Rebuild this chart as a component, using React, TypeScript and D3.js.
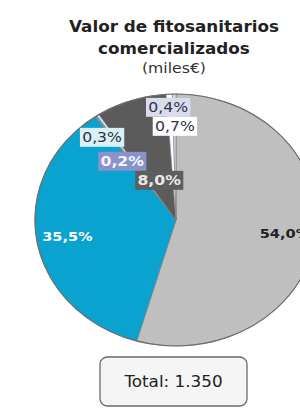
import React, { useEffect, useRef } from 'react';
import * as d3 from 'd3';

// valores del gráfico (porcentaje sobre el total)
const categories = ["Grupo A", "Grupo B", "Grupo C", "Grupo D", "Grupo E", "Grupo F", "Grupo G"];
const values = [54.0, 35.5, 0.2, 0.3, 8.0, 0.7, 0.4];
const sliceColors = ["#bfbfbf", "#0aa3cf", "#7f8cc8", "#c4e6ef", "#5b5b5b", "#ffffff", "#d5d8ea"];
const labelFills = ["none", "none", "#8793c9", "#daf0f4", "#5e5e5e", "#ffffff", "#d9dcec"];
const labelInk = ["#222222", "#ffffff", "#f4f4ff", "#2c3448", "#e8e8e8", "#2c3448", "#2c3448"];
// etiquetas movidas a mano (relativas al centro); null = centroide
const labelSpots: ([number, number] | null)[] = [null, null, [-48, -59], [-66, -83], [-15, -40], [-1, -94], [-7, -113]];
const titleLines = ["Valor de fitosanitarios", "comercializados"];
const subtitle = "(miles€)";
const totalText = "Total: 1.350";

const W = 300, H = 408;
const stretch = 1.12; // la imagen original está algo estirada en horizontal

function App() {
  const ref = useRef<SVGSVGElement>(null);

  useEffect(() => {
    const svg = d3.select(ref.current);
    svg.selectAll("*").remove();
    const font = "'DejaVu Sans', Verdana, sans-serif";

    const root = svg.append("g").attr("transform", `scale(${stretch},1)`);
    const cx = 176 / stretch, cy = 220, r = 126;

    // titulo
    root.selectAll("text.title")
      .data(titleLines)
      .enter()
      .append("text")
      .attr("class", "title")
      .attr("x", 174 / stretch)
      .attr("y", (d, i) => 32 + i * 22)
      .attr("text-anchor", "middle")
      .attr("font-family", font)
      .attr("font-weight", "bold")
      .attr("font-size", 15)
      .attr("fill", "#222")
      .text(d => d);
    root.append("text")
      .attr("x", 174 / stretch)
      .attr("y", 73)
      .attr("text-anchor", "middle")
      .attr("font-family", font)
      .attr("font-size", 14)
      .attr("fill", "#333")
      .text(subtitle);

    const data = categories.map((c, i) => ({ key: c, value: values[i], index: i }));
    const pie = d3.pie<any>().sort(null).value(d => d.value);
    const arc = d3.arc<any>().innerRadius(0).outerRadius(r);
    const labelArc = d3.arc<any>().innerRadius(r * 0.78).outerRadius(r * 0.78);

    const bodyG = root.append("g").attr("transform", `translate(${cx},${cy})`);
    bodyG.selectAll("path.slice")
      .data(pie(data))
      .enter()
      .append("path")
      .attr("class", "slice")
      .attr("d", d => arc(d) as string)
      .attr("fill", d => sliceColors[d.data.index])
      .attr("stroke", "#7a7a7a")
      .attr("stroke-width", 0.6)
      .attr("vector-effect", "non-scaling-stroke");
    bodyG.append("circle")
      .attr("r", r)
      .attr("fill", "none")
      .attr("stroke", "#6e6e6e")
      .attr("stroke-width", 1.2)
      .attr("vector-effect", "non-scaling-stroke");

    const fmt = (v: number) => v.toFixed(1).replace(".", ",") + "%";
    pie(data).forEach(d => {
      const i = d.data.index;
      const spot = labelSpots[i] || labelArc.centroid(d);
      const g = bodyG.append("g").attr("transform", `translate(${spot[0]},${spot[1]})`);
      const txt = g.append("text")
        .attr("text-anchor", "middle")
        .attr("dy", "0.36em")
        .attr("font-family", font)
        .attr("font-size", i < 2 ? 13 : 14)
        .attr("font-weight", i < 2 || i === 2 || i === 4 ? "bold" : "normal")
        .attr("fill", labelInk[i])
        .text(fmt(d.data.value));
      if (labelFills[i] !== "none") {
        const bb = (txt.node() as SVGTextElement).getBBox();
        g.insert("rect", "text")
          .attr("x", bb.x - 2)
          .attr("y", bb.y - 1)
          .attr("width", bb.width + 4)
          .attr("height", bb.height + 2)
          .attr("fill", labelFills[i]);
      }
    });

    // cuadro del total
    const boxX = 100 / stretch, boxW = 147 / stretch;
    root.append("rect")
      .attr("x", boxX)
      .attr("y", 357)
      .attr("width", boxW)
      .attr("height", 49)
      .attr("rx", 7)
      .attr("fill", "#f5f5f5")
      .attr("stroke", "#6a6a6a")
      .attr("stroke-width", 1.3)
      .attr("vector-effect", "non-scaling-stroke");
    root.append("text")
      .attr("x", boxX + boxW / 2)
      .attr("y", 387)
      .attr("text-anchor", "middle")
      .attr("font-family", font)
      .attr("font-size", 15)
      .attr("fill", "#222")
      .text(totalText);
  }, []);

  return (
    <svg ref={ref} width={W} height={H}
      style={{ position: "absolute", left: 0, top: 0, background: "#fff" }} />
  );
}

export default App;
